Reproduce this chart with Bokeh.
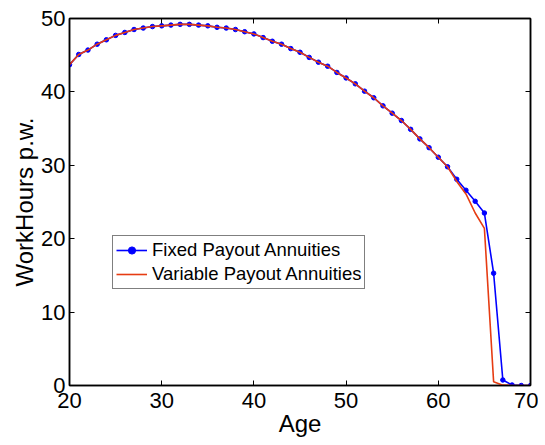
from bokeh.plotting import figure
from bokeh.models import FixedTicker, LinearAxis, Range1d, Legend, LegendItem
from bokeh.embed import file_html
from bokeh.resources import INLINE

ages = list(range(20, 71))
fixed = [43.7, 45.1, 45.7, 46.5, 47.1, 47.7, 48.1, 48.5, 48.7, 48.9,
         49.0, 49.1, 49.2, 49.2, 49.1, 49.0, 48.8, 48.7, 48.5, 48.2,
         47.9, 47.4, 46.9, 46.5, 45.9, 45.4, 44.7, 44.05, 43.5, 42.65,
         41.9, 41.1, 40.1, 39.2, 38.1, 37.1, 36.1, 34.9, 33.6, 32.4,
         31.1, 29.8, 28.1, 26.6, 25.1, 23.5, 15.3, 0.75, 0.07, 0.0,
         0.0]
variable = [43.7, 45.1, 45.7, 46.5, 47.1, 47.7, 48.1, 48.5, 48.7, 48.9,
            49.0, 49.1, 49.2, 49.2, 49.1, 49.0, 48.8, 48.7, 48.5, 48.2,
            47.9, 47.4, 46.9, 46.5, 45.9, 45.4, 44.7, 44.05, 43.5, 42.65,
            41.9, 41.1, 40.1, 39.2, 38.1, 37.1, 36.1, 34.9, 33.6, 32.4,
            31.1, 29.8, 27.8, 26.1, 23.5, 21.4, 0.5, 0.05, 0.0, 0.0,
            0.0]
x_ticks = [20, 30, 40, 50, 60, 70]
y_ticks = [0, 10, 20, 30, 40, 50]
x_label = "Age"
y_label = "WorkHours p.w."
series_names = ["Fixed Payout Annuities", "Variable Payout Annuities"]

FONT = "Liberation Sans"
BLUE = "#0000FF"
RED = "#E63C12"

p = figure(width=538, height=443, output_backend="svg", toolbar_location=None,
           x_range=Range1d(20, 70), y_range=Range1d(0, 50),
           min_border_left=69, min_border_right=8, min_border_top=18,
           min_border_bottom=58)
p.grid.visible = False
p.outline_line_color = "black"
p.outline_line_width = 1.5
p.background_fill_color = "white"
p.border_fill_color = "white"

for ax, ticks in ((p.xaxis[0], x_ticks), (p.yaxis[0], y_ticks)):
    ax.ticker = FixedTicker(ticks=ticks, minor_ticks=[])
    ax.major_tick_in = 5
    ax.major_tick_out = 0
    ax.minor_tick_in = 0
    ax.minor_tick_out = 0
    ax.axis_line_color = "black"
    ax.axis_line_width = 1.5
    ax.major_tick_line_color = "black"
    ax.major_label_text_font = FONT
    ax.major_label_text_font_size = "22px"
    ax.major_label_text_color = "black"
    ax.axis_label_text_font = FONT
    ax.axis_label_text_font_size = "24px"
    ax.axis_label_text_font_style = "normal"
    ax.axis_label_text_color = "black"
    ax.axis_label_standoff = 0

p.xaxis.major_label_standoff = 7
p.xaxis.axis_label_standoff = -1
p.yaxis.major_label_standoff = 4
p.xaxis.axis_label = x_label
p.yaxis.axis_label = y_label

top_ax = LinearAxis(ticker=FixedTicker(ticks=x_ticks, minor_ticks=[]),
                    major_tick_in=5, major_tick_out=0, minor_tick_in=0, minor_tick_out=0,
                    major_label_overrides={t: "" for t in x_ticks},
                    major_label_text_font_size="2px", major_label_standoff=0,
                    axis_line_color="black", axis_line_width=1.5)
right_ax = LinearAxis(ticker=FixedTicker(ticks=y_ticks, minor_ticks=[]),
                      major_tick_in=5, major_tick_out=0, minor_tick_in=0, minor_tick_out=0,
                      major_label_overrides={t: "" for t in y_ticks},
                      major_label_text_font_size="2px", major_label_standoff=0,
                      axis_line_color="black", axis_line_width=1.5)
p.add_layout(top_ax, "above")
p.add_layout(right_ax, "right")

r_blue_line = p.line(ages, fixed, line_color=BLUE, line_width=1.6)
r_blue_pts = p.scatter(ages, fixed, size=4.5, fill_color=BLUE, line_color=BLUE)
r_red = p.line(ages, variable, line_color=RED, line_width=1.6)

legend = Legend(items=[LegendItem(label=series_names[0], renderers=[r_blue_line, r_blue_pts]),
                       LegendItem(label=series_names[1], renderers=[r_red])],
                location=(43, 96), orientation="vertical",
                padding=3, spacing=2, margin=0,
                glyph_width=31, glyph_height=18, label_height=18, label_standoff=5,
                label_text_font=FONT, label_text_font_size="18.5px", label_text_color="black",
                border_line_color="black", border_line_width=1.2,
                background_fill_color="white", background_fill_alpha=1.0)
p.add_layout(legend)

open("out.html", "w").write(file_html(p, INLINE))
